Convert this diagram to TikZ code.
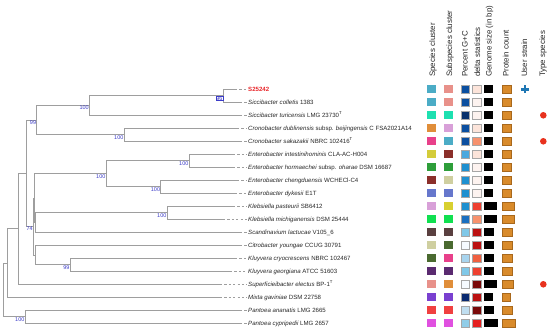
\documentclass[tikz,border=0pt]{standalone}
\usepackage{fontspec}
\setmainfont{Liberation Sans}
\usepackage{xcolor}
\usepackage{tikz}
\usetikzlibrary{positioning}

\definecolor{bootblue}{HTML}{3C3CC8}
\definecolor{strainred}{HTML}{E8262A}
\definecolor{typered}{HTML}{E8321E}
\definecolor{userblue}{HTML}{1F77B4}
\definecolor{protfill}{HTML}{D98B2B}
\definecolor{protedge}{HTML}{A8681C}
% cluster colours
\definecolor{clTeal}{HTML}{4BACC6}
\definecolor{clSalmon}{HTML}{E8918A}
\definecolor{clMint}{HTML}{1DE0B0}
\definecolor{clOrange}{HTML}{E08E3A}
\definecolor{clPlum}{HTML}{D8A0D8}
\definecolor{clMagenta}{HTML}{E8408A}
\definecolor{clOlive}{HTML}{D4CC3A}
\definecolor{clRust}{HTML}{8B2F2A}
\definecolor{clGreen}{HTML}{2E9E3A}
\definecolor{clKhaki}{HTML}{CFCFA0}
\definecolor{clPeri}{HTML}{6677CC}
\definecolor{clYellow}{HTML}{D8D030}
\definecolor{clLime}{HTML}{10E050}
\definecolor{clTaupe}{HTML}{5A4040}
\definecolor{clForest}{HTML}{4A6A30}
\definecolor{clPurple}{HTML}{5A2A70}
\definecolor{clViolet}{HTML}{7A40D0}
\definecolor{clRed}{HTML}{F04040}
\definecolor{clPink}{HTML}{E050E0}
% G+C shades
\definecolor{gcA}{HTML}{0B4FA0}
\definecolor{gcB}{HTML}{08306B}
\definecolor{gcC}{HTML}{4AA8DE}
\definecolor{gcD}{HTML}{1E90D0}
\definecolor{gcE}{HTML}{1A6FC0}
\definecolor{gcF}{HTML}{80C8E8}
\definecolor{gcG}{HTML}{F5FAFF}
\definecolor{gcH}{HTML}{A8D4EE}
\definecolor{gcI}{HTML}{0A2A70}
\definecolor{gcJ}{HTML}{C0DEF0}
\definecolor{gcK}{HTML}{90CDE8}
% delta shades
\definecolor{dA}{HTML}{FCE4DA}
\definecolor{dB}{HTML}{FDF3F0}
\definecolor{dC}{HTML}{F7926E}
\definecolor{dD}{HTML}{EE4030}
\definecolor{dE}{HTML}{BB1111}
\definecolor{dF}{HTML}{7A0A0A}
\definecolor{dG}{HTML}{F06040}
\definecolor{dH}{HTML}{E52020}

\begin{document}
\begin{tikzpicture}[
    x=1pt, y=-1pt,
    branch/.style={draw=black!38, line width=0.8pt},
    stub/.style={branch, dash pattern=on 2.2pt off 2.2pt},
    leaf/.style={anchor=west, inner sep=1.5pt, text height=4.6pt, text depth=0.4pt, font=\fontsize{6.1}{7}\selectfont, text=black!85},
    boot/.style={anchor=north east, inner sep=0.4pt, font=\fontsize{5.5}{6}\selectfont, text=bootblue},
    head/.style={rotate=90, anchor=west, inner sep=0pt, text height=5.8pt, text depth=1.6pt, font=\fontsize{7.9}{9}\selectfont, text=black!85},
    cell/.style={draw=black!35, line width=0.3pt},
    typemark/.style={circle, fill=typered, inner sep=0pt, minimum size=6.6pt},
    usermark/.style={draw=userblue, line width=2.6pt}
]
\useasboundingbox (0,0) rectangle (550,331);

% strain labels
\node[leaf] (s25242) at (246.5,89.3) {\textcolor{strainred}{\textbf{S25242}}};
\node[leaf] (scol) at (246.5,102.3) {\textit{Siccibacter colletis} 1383};
\node[leaf] (stur) at (246.5,115.3) {\textit{Siccibacter turicensis} LMG 23730\textsuperscript{T}};
\node[leaf] (cdub) at (246.5,128.3) {\textit{Cronobacter dublinensis} subsp. \textit{beijingensis} C FSA2021A14};
\node[leaf] (csak) at (246.5,141.3) {\textit{Cronobacter sakazakii} NBRC 102416\textsuperscript{T}};
\node[leaf] (eint) at (246.5,154.3) {\textit{Enterobacter intestinihominis} CLA-AC-H004};
\node[leaf] (ehor) at (246.5,167.3) {\textit{Enterobacter hormaechei} subsp. \textit{oharae} DSM 16687};
\node[leaf] (eche) at (246.5,180.3) {\textit{Enterobacter chengduensis} WCHECl-C4};
\node[leaf] (edyk) at (246.5,193.3) {\textit{Enterobacter dykesii} E1T};
\node[leaf] (kpas) at (246.5,206.3) {\textit{Klebsiella pasteurii} SB6412};
\node[leaf] (kmic) at (246.5,219.3) {\textit{Klebsiella michiganensis} DSM 25444};
\node[leaf] (slac) at (246.5,232.3) {\textit{Scandinavium lactucae} V105\_6};
\node[leaf] (cyou) at (246.5,245.3) {\textit{Citrobacter youngae} CCUG 30791};
\node[leaf] (kcry) at (246.5,258.3) {\textit{Kluyvera cryocrescens} NBRC 102467};
\node[leaf] (kgeo) at (246.5,271.3) {\textit{Kluyvera georgiana} ATCC 51603};
\node[leaf] (sele) at (246.5,284.3) {\textit{Superficieibacter electus} BP-1\textsuperscript{T}};
\node[leaf] (mgav) at (246.5,297.3) {\textit{Mixta gaviniae} DSM 22758};
\node[leaf] (pana) at (246.5,310.3) {\textit{Pantoea ananatis} LMG 2665};
\node[leaf] (pcyp) at (246.5,323.3) {\textit{Pantoea cypripedii} LMG 2657};

% branch tips
\coordinate (s25242-e) at (235,89.3);
\coordinate (scol-e) at (240,102.3);
\coordinate (stur-e) at (240,115.3);
\coordinate (cdub-e) at (237,128.3);
\coordinate (csak-e) at (240,141.3);
\coordinate (eint-e) at (233,154.3);
\coordinate (ehor-e) at (233,167.3);
\coordinate (eche-e) at (237,180.3);
\coordinate (edyk-e) at (235,193.3);
\coordinate (kpas-e) at (233,206.3);
\coordinate (kmic-e) at (223,219.3);
\coordinate (slac-e) at (240,232.3);
\coordinate (cyou-e) at (240,245.3);
\coordinate (kcry-e) at (235,258.3);
\coordinate (kgeo-e) at (230,271.3);
\coordinate (sele-e) at (220,284.3);
\coordinate (mgav-e) at (220,297.3);
\coordinate (pana-e) at (240,310.3);
\coordinate (pcyp-e) at (240,323.3);

% inner nodes
\coordinate (nSic) at (223,95.8);
\coordinate (nSicTur) at (89.3,105.55);
\coordinate (nCro) at (124,134.8);
\coordinate (nSicCro) at (36.7,120.2);
\coordinate (nEntA) at (189,160.8);
\coordinate (nEntB) at (160.7,186.8);
\coordinate (nEnt) at (106,173.8);
\coordinate (nKle) at (167,212.8);
\coordinate (nKleSca) at (35.5,222.55);
\coordinate (nEntKle) at (34.2,198.2);
\coordinate (nKlu) at (70,264.8);
\coordinate (nCitKlu) at (35,255.05);
\coordinate (nMid) at (33.3,226.6);
\coordinate (nUpper) at (26,173.4);
\coordinate (nSup) at (18.3,228.85);
\coordinate (nMix) at (7.3,263.1);
\coordinate (nPan) at (25,316.8);
\coordinate (nRoot) at (3.3,289.95);

\draw[branch] (nSic) |- (s25242-e) (nSic) |- (scol-e);
\draw[branch] (nSicTur) |- (nSic) (nSicTur) |- (stur-e);
\draw[branch] (nCro) |- (cdub-e) (nCro) |- (csak-e);
\draw[branch] (nSicCro) |- (nSicTur) (nSicCro) |- (nCro);
\draw[branch] (nEntA) |- (eint-e) (nEntA) |- (ehor-e);
\draw[branch] (nEntB) |- (eche-e) (nEntB) |- (edyk-e);
\draw[branch] (nEnt) |- (nEntA) (nEnt) |- (nEntB);
\draw[branch] (nKle) |- (kpas-e) (nKle) |- (kmic-e);
\draw[branch] (nKleSca) |- (nKle) (nKleSca) |- (slac-e);
\draw[branch] (nEntKle) |- (nEnt) (nEntKle) |- (nKleSca);
\draw[branch] (nKlu) |- (kcry-e) (nKlu) |- (kgeo-e);
\draw[branch] (nCitKlu) |- (cyou-e) (nCitKlu) |- (nKlu);
\draw[branch] (nMid) |- (nEntKle) (nMid) |- (nCitKlu);
\draw[branch] (nUpper) |- (nSicCro) (nUpper) |- (nMid);
\draw[branch] (nSup) |- (nUpper) (nSup) |- (sele-e);
\draw[branch] (nMix) |- (nSup) (nMix) |- (mgav-e);
\draw[branch] (nPan) |- (pana-e) (nPan) |- (pcyp-e);
\draw[branch] (nRoot) |- (nMix) (nRoot) |- (nPan);
\foreach \l in {s25242,scol,stur,cdub,csak,eint,ehor,eche,edyk,kpas,kmic,slac,cyou,kcry,kgeo,sele,mgav,pana,pcyp}
    \draw[stub] (\l-e) -- (\l);

% bootstrap support
\node[boot, draw=bootblue, line width=0.3pt] (bSic) at (nSic) {96};
\node[boot] (bSicTur) at (nSicTur) {100};
\node[boot] (bCro) at (nCro) {100};
\node[boot] (bSicCro) at (nSicCro) {99};
\node[boot] (bEntA) at (nEntA) {100};
\node[boot] (bEntB) at (nEntB) {100};
\node[boot] (bEnt) at (nEnt) {100};
\node[boot] (bKle) at (nKle) {100};
\node[boot] (bMid) at (nMid) {74};
\node[boot] (bKlu) at (nKlu) {99};
\node[boot] (bPan) at (nPan) {100};

% column heads
\node[head] (hSpecies) at (433,77) {Species cluster};
\node[head] (hSubspecies) at (450,77) {Subspecies cluster};
\node[head] (hGC) at (465.5,77) {Percent G+C};
\node[head] (hDelta) at (478,77) {delta statistics};
\node[head] (hGenome) at (489.5,77) {Genome size (in bp)};
\node[head] (hProtein) at (506.5,77) {Protein count};
\node[head] (hUser) at (525,77) {User strain};
\node[head] (hType) at (543,77) {Type species};

% trait cells
\foreach \r/\csp/\csub/\cgc/\cdl/\gw/\pw in {
    0/clTeal/clSalmon/gcA/dA/8.7/9.3,
    1/clTeal/clSalmon/gcA/dB/8.7/9.3,
    2/clMint/clMint/gcB/dB/8.7/9.3,
    3/clOrange/clPlum/gcA/dA/8.7/9.3,
    4/clMagenta/clTeal/gcA/dC/8.7/9.3,
    5/clOlive/clRust/gcC/dA/8.7/9.3,
    6/clGreen/clGreen/gcD/dB/8.7/9.3,
    7/clRust/clKhaki/gcD/dB/9.3/9.3,
    8/clPeri/clPeri/gcD/dB/8.7/9.3,
    9/clPlum/clYellow/gcD/dD/13.3/12.3,
    10/clLime/clLime/gcE/dC/13.3/12.7,
    11/clTaupe/clTaupe/gcF/dE/10/10,
    12/clKhaki/clForest/gcG/dE/9.5/10,
    13/clForest/clMagenta/gcH/dG/9.5/10.7,
    14/clPurple/clPurple/gcF/dD/9.5/10,
    15/clSalmon/clOrange/gcG/dF/13/11.7,
    16/clViolet/clViolet/gcI/dE/9.3/8.3,
    17/clRed/clRed/gcJ/dF/10/10,
    18/clPink/clPink/gcK/dH/14.3/13.3}
{
    \pgfmathsetmacro\yy{89.3+13*\r}
    \fill[\csp] (427.3,\yy-4.2) rectangle ++(8.5,8.4);
    \fill[\csub] (444.3,\yy-4.2) rectangle ++(8.5,8.4);
    \filldraw[cell, fill=\cgc] (461,\yy-4.2) rectangle ++(8.5,8.4);
    \filldraw[cell, fill=\cdl] (472.3,\yy-4.2) rectangle ++(8.5,8.4);
    \fill[black] (484,\yy-4.2) rectangle ++(\gw,8.4);
    \filldraw[draw=protedge, line width=0.4pt, fill=protfill] (501.7,\yy-4.2) rectangle ++(\pw,8.4);
}

% user strain and type species marks
\draw[usermark] (525,85.5) -- (525,93.1) (521.2,89.3) -- (528.8,89.3);
\node[typemark] (tStur) at (543.3,115.3) {};
\node[typemark] (tCsak) at (543.3,141.3) {};
\node[typemark] (tSele) at (543.3,284.3) {};
\end{tikzpicture}
\end{document}
